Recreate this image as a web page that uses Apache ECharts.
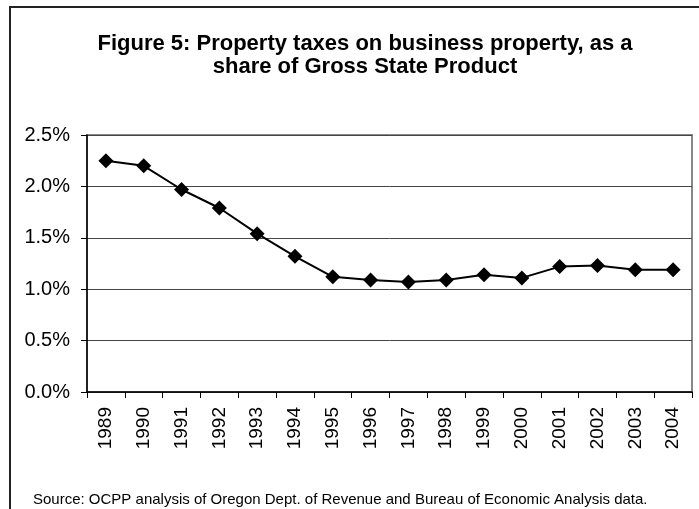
<!DOCTYPE html>
<html>
<head>
<meta charset="utf-8">
<script src="https://cdn.jsdelivr.net/npm/echarts@6/dist/echarts.min.js"></script>
<style>html,body{margin:0;padding:0;background:#fff}#c{width:699px;height:509px}</style>
</head>
<body>
<div id="c"></div>
<script>
var years = ['1989','1990','1991','1992','1993','1994','1995','1996','1997','1998','1999','2000','2001','2002','2003','2004'];
var shares = [2.25, 2.20, 1.97, 1.79, 1.54, 1.32, 1.12, 1.09, 1.07, 1.09, 1.14, 1.11, 1.22, 1.23, 1.19, 1.19];
var titleText = 'Figure 5: Property taxes on business property, as a\nshare of Gross State Product';
var sourceText = 'Source: OCPP analysis of Oregon Dept. of Revenue and Bureau of Economic Analysis data.';

var chart = echarts.init(document.getElementById('c'), null, {renderer: 'canvas'});
var font = 'Liberation Sans, Arial, sans-serif';
chart.setOption({
  animation: false,
  backgroundColor: '#fff',
  title: {
    text: titleText,
    left: 360,
    top: 27,
    textAlign: 'center',
    textStyle: {fontFamily: font, fontSize: 22, fontWeight: 'bold', color: '#000', lineHeight: 23}
  },
  graphic: [
    {type: 'rect', shape: {x: 10, y: 7, width: 720, height: 520}, style: {fill: 'none', stroke: '#222', lineWidth: 2}, silent: true},
    {type: 'text', left: 33, top: 492, style: {text: sourceText, fontFamily: font, fontSize: 15, fill: '#000'}}
  ],
  grid: {left: 87, right: 7, top: 135, bottom: 117, show: true, borderColor: '#888', borderWidth: 2, backgroundColor: 'transparent'},
  xAxis: {
    type: 'category',
    data: years,
    boundaryGap: true,
    axisLine: {lineStyle: {color: '#000', width: 1.5}},
    axisTick: {show: true, interval: 0, length: 6, lineStyle: {color: '#000'}},
    axisLabel: {interval: 0, rotate: 90, margin: 15, fontFamily: font, fontSize: 19, color: '#000'},
    splitLine: {show: false}
  },
  yAxis: {
    type: 'value',
    min: 0, max: 2.5, interval: 0.5,
    axisLine: {show: true, lineStyle: {color: '#000', width: 1.5}},
    axisTick: {show: true, length: 6, lineStyle: {color: '#000'}},
    axisLabel: {margin: 17, fontFamily: font, fontSize: 20, color: '#000', formatter: function(v){return v.toFixed(1) + '%';}},
    splitLine: {show: true, lineStyle: {color: '#444', width: 1}}
  },
  series: [{
    type: 'line',
    data: shares,
    symbol: 'diamond',
    symbolSize: 15,
    lineStyle: {color: '#000', width: 2},
    itemStyle: {color: '#000'}
  }]
});
</script>
</body>
</html>
